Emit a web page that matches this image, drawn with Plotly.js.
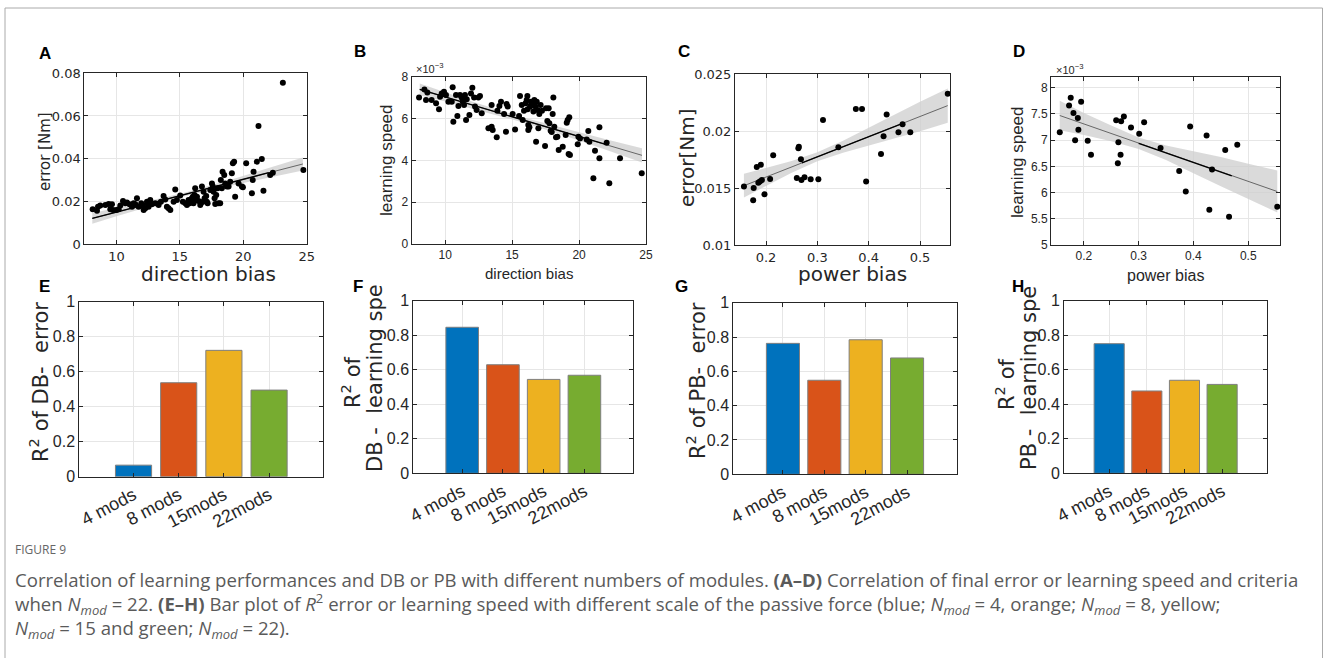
<!DOCTYPE html>
<html>
<head>
<meta charset="utf-8">
<script src="https://cdn.plot.ly/plotly-3.0.1.min.js"></script>
<style>html,body{margin:0;padding:0;background:#fff;}#chart{width:1328px;height:658px;}</style>
</head>
<body>
<div id="chart"></div>
<script>
// ---------------- DATA ----------------
// Panel A: direction bias vs final error [Nm]
const dbA = [8.13,8.47,8.55,8.73,9.13,9.39,9.65,9.52,9.73,9.99,10.18,10.31,10.52,10.70,10.83,11.04,11.23,11.36,11.49,11.62,11.75,11.96,12.09,12.15,12.28,12.41,12.54,12.67,12.80,13.06,13.33,13.51,13.72,13.85,13.98,14.11,14.25,14.51,14.64,14.77,15.03,15.24,15.43,15.56,15.69,15.77,15.87,15.95,16.03,16.08,16.16,16.21,16.27,16.35,16.48,16.61,16.66,16.74,16.82,16.87,16.95,17.08,17.13,17.19,17.40,17.53,17.60,17.66,17.74,17.79,17.87,17.97,18.05,18.18,18.23,18.31,18.37,18.50,18.58,18.71,18.84,18.97,19.10,19.18,19.28,19.36,19.63,19.89,19.97,20.23,20.68,20.75,20.81,21.07,21.20,21.46,21.59,22.12,22.33,23.12,24.74];
const errA = [0.0163,0.0156,0.0175,0.0180,0.0183,0.0188,0.0186,0.0163,0.0159,0.0159,0.0163,0.0180,0.0202,0.0191,0.0195,0.0186,0.0175,0.0191,0.0186,0.0214,0.0175,0.0191,0.0180,0.0159,0.0167,0.0198,0.0175,0.0206,0.0186,0.0191,0.0183,0.0198,0.0225,0.0209,0.0175,0.0167,0.0159,0.0198,0.0256,0.0206,0.0227,0.0198,0.0191,0.0183,0.0206,0.0191,0.0202,0.0214,0.0222,0.0191,0.0230,0.0261,0.0206,0.0222,0.0202,0.0183,0.0191,0.0269,0.0198,0.0245,0.0214,0.0225,0.0198,0.0191,0.0253,0.0284,0.0269,0.0245,0.0214,0.0188,0.0230,0.0261,0.0191,0.0191,0.0300,0.0261,0.0339,0.0323,0.0284,0.0269,0.0269,0.0292,0.0331,0.0378,0.0386,0.0222,0.0284,0.0269,0.0266,0.0378,0.0238,0.0300,0.0339,0.0386,0.0553,0.0398,0.0250,0.0323,0.0334,0.0756,0.0347];
const fitA_x = [8.1,10,12,15.5,19,22,24.7];
const fitA_y = [0.0120,0.0149,0.0180,0.0234,0.0287,0.0334,0.0375];
const fitA_up = [0.0145,0.0168,0.0194,0.0242,0.0301,0.0356,0.0405];
const fitA_lo = [0.0095,0.0130,0.0166,0.0226,0.0273,0.0312,0.0345];
const fitA_darkX = [8.1,22];
const fitA_darkY = [0.0120,0.0334];

// Panel B: direction bias vs learning speed (x 10^-3)
const dbB = [8.05,8.45,8.67,8.57,8.99,9.32,9.54,9.62,9.74,9.91,10.06,10.24,10.49,10.56,10.61,10.81,10.91,10.99,11.11,11.23,11.31,11.41,11.48,11.56,11.61,11.81,11.93,12.03,12.16,12.23,12.35,12.48,12.60,12.73,13.23,13.47,13.55,13.47,13.85,13.90,14.05,14.17,14.40,14.54,14.59,14.67,15.04,15.22,15.52,15.59,15.72,15.79,15.89,16.01,16.09,16.14,16.16,16.21,16.21,16.29,16.34,16.41,16.54,16.59,16.66,16.74,16.79,16.84,16.89,16.96,17.03,17.13,17.23,17.46,17.53,17.63,17.73,17.78,17.88,17.96,18.03,18.08,18.15,18.28,18.38,18.48,18.78,19.00,19.08,19.15,19.22,19.27,19.32,19.90,19.95,20.07,20.57,20.69,20.77,21.07,21.19,21.52,21.52,22.06,22.26,23.06,24.68];
const speedB = [7.01,7.39,7.24,6.88,6.88,6.73,6.44,7.04,7.20,7.28,7.12,6.80,6.80,7.49,5.85,7.12,6.12,6.60,7.12,7.01,6.80,6.65,7.12,5.93,6.92,6.17,7.20,7.47,7.01,6.57,6.41,7.01,7.08,6.25,5.53,5.61,5.45,6.65,5.10,6.37,6.60,6.80,6.22,5.37,6.69,6.57,6.22,5.48,6.12,7.08,6.65,5.93,6.37,6.73,6.88,7.08,6.44,5.69,5.45,5.58,6.57,6.80,6.65,6.33,6.88,6.57,4.89,6.80,6.41,5.53,6.22,6.65,6.37,4.69,6.49,5.88,6.49,5.77,5.42,5.35,6.22,7.01,5.61,5.10,5.13,4.49,4.65,5.21,5.80,5.93,4.30,6.06,4.25,4.77,5.13,5.04,5.00,5.40,4.89,3.14,4.46,5.58,4.10,4.84,2.90,4.10,3.38];
const fitB_x = [8.1,10,12,15.5,19,22,24.7];
const fitB_y = [7.39,7.03,6.65,5.99,5.33,4.76,4.24];
const fitB_up = [7.67,7.25,6.82,6.11,5.50,5.01,4.58];
const fitB_lo = [7.11,6.81,6.48,5.87,5.16,4.51,3.90];
const fitB_darkX = [8.1,22];
const fitB_darkY = [7.39,4.76];

// Panel C: power bias vs error [Nm]
const pbC = [0.157,0.175,0.176,0.182,0.185,0.190,0.188,0.192,0.197,0.208,0.214,0.260,0.263,0.264,0.268,0.269,0.275,0.287,0.302,0.311,0.341,0.375,0.387,0.395,0.424,0.429,0.435,0.458,0.466,0.481,0.554];
const errC = [0.01513,0.01393,0.01501,0.01686,0.01548,0.01706,0.01557,0.01571,0.01445,0.01580,0.01788,0.01589,0.01850,0.01864,0.01753,0.01571,0.01595,0.01577,0.01577,0.02099,0.01858,0.02195,0.02195,0.01557,0.01800,0.01955,0.02146,0.01990,0.02061,0.01990,0.02330];
const fitC_x = [0.157,0.2,0.25,0.3,0.35,0.4,0.45,0.5,0.554];
const fitC_y = [0.01521,0.01597,0.01686,0.01775,0.01863,0.01952,0.02040,0.02129,0.02225];
const fitC_up = [0.01625,0.01675,0.01738,0.01815,0.01915,0.02030,0.02145,0.02259,0.02376];
const fitC_lo = [0.01417,0.01519,0.01634,0.01735,0.01811,0.01874,0.01935,0.01999,0.02074];
const fitC_darkX = [0.27,0.47];
const fitC_darkY = [0.01721,0.02076];

// Panel D: power bias vs learning speed (x 10^-3)
const pbD = [0.156,0.173,0.176,0.181,0.184,0.189,0.190,0.195,0.207,0.213,0.259,0.262,0.263,0.267,0.268,0.273,0.286,0.301,0.310,0.340,0.374,0.386,0.394,0.424,0.429,0.434,0.458,0.465,0.480,0.553];
const speedD = [7.15,7.66,7.81,7.52,7.00,7.42,7.20,7.73,6.99,6.72,7.38,6.56,6.96,6.72,7.36,7.45,7.24,7.12,7.34,6.85,6.41,6.02,7.26,7.09,5.67,6.44,6.81,5.54,6.91,5.73];
const fitD_x = [0.156,0.2,0.25,0.3,0.35,0.4,0.45,0.5,0.553];
const fitD_y = [7.47,7.31,7.13,6.94,6.76,6.58,6.40,6.21,6.02];
const fitD_up = [7.75,7.52,7.28,7.05,6.90,6.79,6.68,6.55,6.42];
const fitD_lo = [7.19,7.10,6.98,6.83,6.62,6.37,6.12,5.87,5.62];
const fitD_darkX = [0.30,0.47];
const fitD_darkY = [6.94,6.32];

// Panels E-H: R^2 bar plots
const modCats = ['4 mods','8 mods','15mods','22mods'];
const r2_DB_error = [0.066,0.537,0.722,0.495];
const r2_DB_speed = [0.846,0.629,0.544,0.568];
const r2_PB_error = [0.763,0.548,0.784,0.678];
const r2_PB_speed = [0.751,0.477,0.539,0.515];
const modColors = ['#0072BD','#D95319','#EDB120','#77AC30'];

// ---------------- LAYOUT HELPERS ----------------
const W = 1328, H = 658;
const px = v => v / W;
const py = v => 1 - v / H;
const dx = (l, r) => [l / W, r / W];
const dy = (t, b) => [1 - b / H, 1 - t / H];
const INK = '#262626';

function axisBase(fontFam, fontSize) {
  return {
    showline: true, linecolor: INK, linewidth: 1, mirror: 'ticks',
    ticks: 'inside', ticklen: 4, tickcolor: INK, tickwidth: 1,
    showgrid: true, gridcolor: '#e6e6e6', gridwidth: 1, zeroline: false,
    tickfont: {family: fontFam, size: fontSize, color: INK},
    fixedrange: true
  };
}

const traces = [];
function scatterPanel(n, xs, ys, fx, fy, fu, fl, dkx, dky) {
  const xa = n === 1 ? 'x' : 'x' + n, ya = n === 1 ? 'y' : 'y' + n;
  traces.push({x: fx.concat(fx.slice().reverse()), y: fu.concat(fl.slice().reverse()),
    type: 'scatter', mode: 'lines', fill: 'toself', fillcolor: 'rgba(205,205,205,0.75)',
    line: {width: 0}, hoverinfo: 'skip', xaxis: xa, yaxis: ya, showlegend: false});
  traces.push({x: fx, y: fy, type: 'scatter', mode: 'lines',
    line: {color: '#666', width: 1}, xaxis: xa, yaxis: ya, showlegend: false});
  traces.push({x: dkx, y: dky, type: 'scatter', mode: 'lines',
    line: {color: '#000', width: 1.3}, xaxis: xa, yaxis: ya, showlegend: false});
  traces.push({x: xs, y: ys, type: 'scatter', mode: 'markers',
    marker: {color: '#000', size: 6}, xaxis: xa, yaxis: ya, showlegend: false});
}
function barPanel(n, vals) {
  traces.push({x: modCats, y: vals, type: 'bar', width: 0.8,
    marker: {color: modColors, line: {color: '#7f7f7f', width: 1}},
    xaxis: 'x' + n, yaxis: 'y' + n, showlegend: false});
}

scatterPanel(1, dbA, errA, fitA_x, fitA_y, fitA_up, fitA_lo, fitA_darkX, fitA_darkY);
scatterPanel(2, dbB, speedB, fitB_x, fitB_y, fitB_up, fitB_lo, fitB_darkX, fitB_darkY);
scatterPanel(3, pbC, errC, fitC_x, fitC_y, fitC_up, fitC_lo, fitC_darkX, fitC_darkY);
scatterPanel(4, pbD, speedD, fitD_x, fitD_y, fitD_up, fitD_lo, fitD_darkX, fitD_darkY);
barPanel(5, r2_DB_error);
barPanel(6, r2_DB_speed);
barPanel(7, r2_PB_error);
barPanel(8, r2_PB_speed);

const DJ = 'DejaVu Sans', LS = 'Liberation Sans, Arial, sans-serif';

const barX = (l, r, anchor) => Object.assign(axisBase(LS, 18), {domain: dx(l, r), anchor: anchor, type: 'category', range: [-1.2, 4.2], tickangle: -28});
const barY = (t, b, anchor) => Object.assign(axisBase(LS, 16), {domain: dy(t, b), anchor: anchor, range: [0, 1], tickvals: [0, 0.2, 0.4, 0.6, 0.8, 1]});

const layout = {
  width: W, height: H, margin: {l: 0, r: 0, t: 0, b: 0},
  paper_bgcolor: '#fff', plot_bgcolor: '#fff', showlegend: false, bargap: 0.2,
  // A
  xaxis: Object.assign(axisBase(DJ, 13), {domain: dx(84.3, 306.7), anchor: 'y', range: [7.47, 25], tickvals: [10, 15, 20, 25]}),
  yaxis: Object.assign(axisBase(DJ, 13), {domain: dy(73.3, 244), anchor: 'x', range: [0, 0.08], tickvals: [0, 0.02, 0.04, 0.06, 0.08]}),
  // B
  xaxis2: Object.assign(axisBase(LS, 12), {domain: dx(411.7, 646), anchor: 'y2', range: [7.5, 25], tickvals: [10, 15, 20, 25]}),
  yaxis2: Object.assign(axisBase(LS, 12), {domain: dy(76.7, 244), anchor: 'x2', range: [0, 8], tickvals: [0, 2, 4, 6, 8]}),
  // C
  xaxis3: Object.assign(axisBase(DJ, 13), {domain: dx(735, 950), anchor: 'y3', range: [0.1396, 0.5584], tickvals: [0.2, 0.3, 0.4, 0.5]}),
  yaxis3: Object.assign(axisBase(DJ, 13), {domain: dy(74.3, 245), anchor: 'x3', range: [0.01, 0.025], tickvals: [0.01, 0.015, 0.02, 0.025]}),
  // D
  xaxis4: Object.assign(axisBase(LS, 12), {domain: dx(1051, 1280), anchor: 'y4', range: [0.14, 0.558], tickvals: [0.2, 0.3, 0.4, 0.5]}),
  yaxis4: Object.assign(axisBase(LS, 12), {domain: dy(76.7, 245), anchor: 'x4', range: [5, 8.21], tickvals: [5, 5.5, 6, 6.5, 7, 7.5, 8]}),
  // E-H
  xaxis5: barX(79.3, 323.3, 'y5'),  yaxis5: barY(301.7, 476.7, 'x5'),
  xaxis6: barX(413.3, 633.3, 'y6'), yaxis6: barY(300.7, 473.3, 'x6'),
  xaxis7: barX(733.3, 956.7, 'y7'), yaxis7: barY(302.7, 474.3, 'x7'),
  xaxis8: barX(1064, 1267.3, 'y8'), yaxis8: barY(300.7, 473.3, 'x8'),
  shapes: [
    {type: 'rect', xref: 'paper', yref: 'paper', x0: px(5), x1: px(1322.5), y0: -0.2, y1: py(8),
     line: {color: '#aaaaaa', width: 1}, fillcolor: 'rgba(0,0,0,0)', layer: 'below'}
  ],
  annotations: []
};

function ann(text, x, y, opts) {
  layout.annotations.push(Object.assign({text: text, x: px(x), y: py(y), xref: 'paper', yref: 'paper',
    showarrow: false, xanchor: 'center', yanchor: 'middle', borderpad: 0,
    font: {family: DJ, size: 14, color: INK}}, opts || {}));
}
const lab = {family: 'Liberation Sans, Arial, sans-serif', size: 17, color: '#000'};
// panel letters
ann('<b>A</b>', 45, 53, {font: lab});
ann('<b>B</b>', 360, 52, {font: lab});
ann('<b>C</b>', 684, 52, {font: lab});
ann('<b>D</b>', 1019, 52, {font: lab});
ann('<b>E</b>', 44, 286, {font: lab});
ann('<b>F</b>', 358, 286, {font: lab});
ann('<b>G</b>', 682, 286, {font: lab});
ann('<b>H</b>', 1018, 286, {font: lab});

// axis titles, top row
ann('error [Nm]', 45, 152, {textangle: -90, font: {family: DJ, size: 15, color: INK}});
ann('direction bias', 208, 274, {font: {family: DJ, size: 20, color: INK}});
ann('learning speed', 386, 160, {textangle: -90, font: {family: LS, size: 17, color: INK}});
ann('direction bias', 529, 274, {font: {family: LS, size: 15, color: INK}});
ann('×10<sup>−3</sup>', 430, 68, {font: {family: LS, size: 11, color: INK}});
ann('error[Nm]', 687, 158, {textangle: -90, font: {family: DJ, size: 20, color: INK}});
ann('power bias', 852, 274, {font: {family: DJ, size: 20, color: INK}});
ann('learning speed', 1017, 162, {textangle: -90, font: {family: LS, size: 17, color: INK}});
ann('power bias', 1165, 275, {font: {family: LS, size: 16, color: INK}});
ann('×10<sup>−3</sup>', 1069, 69, {font: {family: LS, size: 11, color: INK}});

// axis titles, bottom row
const bigT = {family: DJ, size: 21, color: INK};
ann('R<sup>2</sup> of DB-  error', 39, 382, {textangle: -90, font: bigT});
ann('R<sup>2</sup> of', 351, 383, {textangle: -90, font: bigT});
ann('DB -  learning spe', 375, 378, {textangle: -90, font: bigT});
ann('R<sup>2</sup> of PB-  error', 696, 381, {textangle: -90, font: bigT});
ann('R<sup>2</sup> of', 1005, 385, {textangle: -90, font: bigT});
ann('PB -  learning spe', 1029, 378, {textangle: -90, font: bigT});

// caption
const cap = {family: 'Open Sans, sans-serif', size: 18.6, color: '#5a5a5a'};
const N = '<i>N</i><sub><i>mod</i></sub>';
ann('FIGURE 9', 14, 549, {xanchor: 'left', font: {family: 'Open Sans, sans-serif', size: 12, color: '#666'}});
ann('Correlation of learning performances and DB or PB with different numbers of modules. <b>(A–D)</b> Correlation of final error or learning speed and criteria<br>' +
    'when ' + N + ' = 22. <b>(E–H)</b> Bar plot of <i>R</i><sup>2</sup> error or learning speed with different scale of the passive force (blue; ' + N + ' = 4, orange; ' + N + ' = 8, yellow;<br>' +
    N + ' = 15 and green; ' + N + ' = 22).',
    14, 566, {xanchor: 'left', yanchor: 'top', align: 'left', font: cap});

Plotly.newPlot('chart', traces, layout, {displayModeBar: false, staticPlot: true});
</script>
</body>
</html>
